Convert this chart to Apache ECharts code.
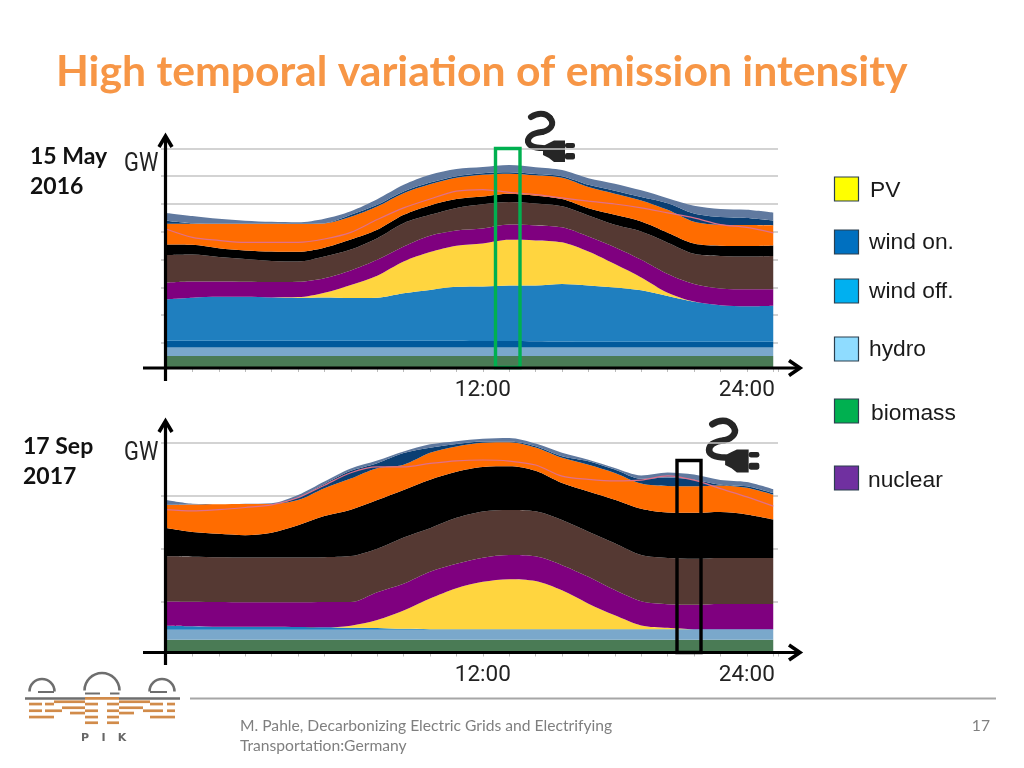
<!DOCTYPE html>
<html><head><meta charset="utf-8">
<style>html,body{margin:0;padding:0;background:#fff}#c{width:1024px;height:768px}</style>
<script src="https://cdn.jsdelivr.net/npm/echarts@6/dist/echarts.min.js"></script>
</head><body><div id="c"></div>
<script>
// Hourly positions and tick labels
const hours = [0,1,2,3,4,5,6,7,8,9,10,11,12,13,14,15,16,17,18,19,20,21,22,23];
const hourLabels = {12:'12:00', 22:'24:00'};
const layerNames = ['biomass','hydro','wind band','wind off.','PV','nuclear','lignite','hard coal','gas','wind on.','other'];
const layerColors = ['#4a7b55','#7aa8cb','#005a9c','#1f7fbf','#ffd53f','#7f007f','#553933','#000000','#ff6c00','#0b3f73','#60799f'];

// 15 May 2016 (GW)
const may_biomass = [5.3,5.3,5.3,5.3,5.3,5.3,5.3,5.3,5.3,5.3,5.3,5.3,5.3,5.3,5.3,5.3,5.3,5.3,5.3,5.3,5.3,5.3,5.3,5.3];
const may_hydro   = [3.1,3.1,3.1,3.1,3.1,3.1,3.1,3.1,3.1,3.1,3.1,3.1,3.1,3.1,3.1,3.1,3.1,3.1,3.1,3.1,3.1,3.1,3.1,3.1];
const may_band    = [2.4,2.4,2.4,2.4,2.4,2.4,2.4,2.4,2.4,2.4,2.4,2.4,2.3,2.3,2.2,2.1,2.0,2.0,2.0,2.0,2.0,2.0,2.0,2.0];
const may_off     = [14.9,15.5,15.8,15.8,15.6,15.5,15.6,15.4,15.5,17.1,18.3,19.4,19.6,20.0,20.1,20.7,20.3,19.6,18.6,16.5,14.4,13.2,12.8,13.0];
const may_pv      = [0,0,0,0,0,0.2,1.7,4.7,7.9,11.4,13.6,14.8,15.5,16.4,16.2,15.0,12.2,8.4,4.6,1.2,0.1,0,0,0];
const may_nuclear = [6.0,5.8,5.5,5.4,5.5,5.5,5.2,5.2,5.7,5.4,5.9,5.5,5.4,5.5,5.4,5.4,5.4,6.0,6.3,6.7,6.3,6.0,6.1,5.9];
const may_lignite = [9.9,9.7,8.8,8.2,7.6,7.3,7.8,7.5,7.8,8.4,7.5,8.1,8.7,8.1,7.9,7.6,7.6,8.1,10.2,11.3,10.9,11.7,11.8,12.0];
const may_coal    = [3.8,3.5,3.2,3.1,3.4,3.5,3.2,3.6,3.0,3.0,3.4,3.2,2.8,3.0,2.8,2.6,2.6,3.6,3.6,3.6,3.7,3.7,3.8,3.8];
const may_gas     = [7.5,7.6,8.8,9.6,10.0,10.0,8.7,8.2,8.4,7.8,7.6,7.6,7.8,7.2,7.3,7.6,7.6,7.6,7.6,8.2,7.8,7.5,7.5,7.2];
const may_on      = [1.1,0.2,0,0,0,0.2,0.1,0.7,0.6,0.6,0.6,0.6,0.6,0.5,0.5,0.6,0.8,1.1,1.2,2.4,3.0,2.8,2.6,1.8];
const may_other   = [2.8,2.6,1.8,1.1,0.7,0.4,1.6,1.3,2.0,2.4,2.8,2.6,2.2,2.6,2.4,2.2,2.4,2.5,2.4,1.8,2.8,2.9,2.9,2.8];
const may_load    = [51.0,48.0,46.9,46.2,46.2,46.2,47.4,49.8,54.4,58.6,61.8,64.6,65.2,64.2,63.4,62.2,61.0,60.0,58.6,56.8,55.0,52.6,51.6,49.6];

// 17 Sep 2017 (GW)
const sep_biomass = [5.8,5.8,5.8,5.8,5.8,5.8,5.8,5.8,5.8,5.8,5.8,5.8,5.8,5.8,5.8,5.8,5.8,5.8,5.8,5.8,5.8,5.8,5.8,5.8];
const sep_hydro   = [3.8,3.8,3.8,3.8,3.8,3.8,3.8,3.8,3.8,3.8,3.8,3.8,3.8,3.8,3.8,3.8,3.8,3.8,3.8,3.8,3.8,3.8,3.8,3.8];
const sep_band    = [0,0,0,0,0,0,0,0,0,0,0,0,0,0,0,0,0,0,0,0,0,0,0,0];
const sep_off     = [1.5,1.3,1.1,1.1,1.1,1.0,0.9,0.7,0.6,0.3,0.2,0.2,0.2,0.2,0.2,0.2,0.2,0.2,0.2,0.2,0.2,0.2,0.2,0.2];
const sep_pv      = [0,0,0,0,0,0,0,0.8,3.0,6.9,11.5,15.4,17.8,18.8,18.1,14.6,9.6,5.2,1.4,0.5,0,0,0,0];
const sep_nuclear = [9.1,9.2,9.3,9.2,9.2,9.3,9.5,8.9,10.5,10.1,10.1,9.2,9.1,9.1,9.3,9.5,10.1,9.5,9.1,8.9,9.2,9.5,9.5,9.5];
const sep_lignite = [17.0,17.0,16.9,16.9,16.9,16.9,16.9,17.3,16.4,17.4,16.4,17.3,17.4,17.0,17.0,17.0,17.0,17.6,17.4,17.4,17.3,17.3,17.3,17.3];
const sep_coal    = [10.7,9.3,8.8,8.4,9.3,12.1,15.5,17.5,18.3,17.9,18.3,17.4,16.8,16.4,15.2,13.9,15.1,16.4,17.4,17.1,17.3,17.3,16.4,14.5];
const sep_gas     = [8.6,10.3,11.1,11.7,10.8,9.5,10.5,11.7,12.0,9.5,10.1,9.5,9.1,9.1,8.8,9.5,10.1,10.1,9.5,10.0,10.0,10.0,10.0,9.3];
const sep_on      = [0.1,0,0,0,0,1.0,1.6,2.9,1.9,4.4,1.9,0.9,0.5,0.3,0.5,0.6,1.3,1.3,1.8,3.2,2.5,0.3,0.6,0.6];
const sep_other   = [1.8,0.3,0,0.1,0.3,0.9,0.9,0.9,1.0,0.6,1.3,1.1,1.0,1.3,1.0,1.3,0.6,0.6,1.3,1.9,1.9,1.8,1.6,1.5];
const sep_load    = [54.8,54.3,54.8,55.6,56.6,59.3,64.0,68.7,70.9,70.9,72.2,73.2,73.5,73.1,71.6,67.4,66.2,65.6,65.9,67.5,65.9,62.7,59.6,56.1];

const mayLayers = [may_biomass,may_hydro,may_band,may_off,may_pv,may_nuclear,may_lignite,may_coal,may_gas,may_on,may_other];
const sepLayers = [sep_biomass,sep_hydro,sep_band,sep_off,sep_pv,sep_nuclear,sep_lignite,sep_coal,sep_gas,sep_on,sep_other];
const mayGrid = [10,20,30,40,50,60,70,80];
const sepGrid = [20,40,60,80];

const legendNames  = ['PV','wind on.','wind off.','hydro','biomass','nuclear'];
const legendColors = ['#ffff00','#0070c0','#00b0f0','#8fdcff','#00b050','#7030a0'];
const legendBoxY   = [177,230,279,337,399,466];
const legendTextX  = [870,869,869,869,871,868];
const legendTextY  = [191,243,292,350,414,481];

const NARROW = 'Roboto,sans-serif';
// value first so that the stack runs along the y dimension
const pair = a => a.map((v,i)=>[v,hours[i]]);

function panelSeries(layers, load, idx){
  const s = layers.map((arr,i)=>({
    type:'line', name:layerNames[i], stack:'p'+idx, xAxisIndex:idx, yAxisIndex:idx,
    data:pair(arr), encode:{x:1,y:0}, symbol:'none', smooth:0.3, clip:true,
    lineStyle:{width:0}, areaStyle:{color:layerColors[i],opacity:1}, z:2+i/100, silent:true
  }));
  s.push({type:'line',name:'load',xAxisIndex:idx,yAxisIndex:idx,data:pair(load),encode:{x:1,y:0},symbol:'none',smooth:0.3,
    lineStyle:{width:1.2,color:'#e0708a'},z:3,silent:true});
  return s;
}
function xAx(idx){
  return {type:'value',gridIndex:idx,min:0,max:23.18,interval:1,
    axisLine:{show:false},splitLine:{show:false},
    axisTick:{show:true,length:4,lineStyle:{color:'#bdbdbd',width:1}},
    axisLabel:{show:true,margin:11,color:'#222',fontFamily:NARROW,fontSize:22.5,
      formatter:v=>hourLabels[v]||''}};
}
function yAx(idx,vals,min,max){
  return {type:'value',gridIndex:idx,min:min,max:max,
    axisLine:{show:false},axisLabel:{show:false},
    axisTick:{show:true,length:5,customValues:vals,lineStyle:{color:'#c4c4c4',width:1.5}},
    splitLine:{show:true,lineStyle:{color:'#c4c4c4',width:1.5}}};
}

// --- decorations ---
const g = [];
const txt=(x,y,t,font,fill,align,sx)=>g.push({type:'text',x,y,z:30,scaleX:sx||1,style:{text:t,font,fill,align:align||'left',verticalAlign:'middle'}});
const line=(x1,y1,x2,y2,stroke,w)=>g.push({type:'line',z:25,shape:{x1,y1,x2,y2},style:{stroke,lineWidth:w}});
const poly=(pts,stroke,w)=>g.push({type:'polyline',z:25,shape:{points:pts},style:{stroke,lineWidth:w,fill:null}});

function arrows(yBase,yBottom,yTop){
  line(143,yBase,800,yBase,'#000',3.2);
  poly([[789,yBase-7.5],[800,yBase],[789,yBase+7.5]],'#000',3.6);
  line(165.5,yBottom,165.5,yTop+2,'#000',3.2);
  poly([[159,yTop+11],[165.5,yTop],[172,yTop+11]],'#000',3.6);
}
arrows(368,381,136);
arrows(652.5,665,421);

function plug(ox,oy,k){
  const cord=(x1,y1,cpx1,cpy1,cpx2,cpy2,x2,y2)=>({type:'bezierCurve',shape:{x1,y1,cpx1,cpy1,cpx2,cpy2,x2,y2},style:{fill:null,stroke:'#262626',lineWidth:6,lineCap:'round'}});
  g.push({type:'group',x:ox,y:oy,scaleX:k,scaleY:k,z:26,children:[
    {type:'rect',shape:{x:-1,y:-2,width:51,height:52},style:{fill:'#fff'}},
    cord(4,4,10,0,18,-1,23,5),
    cord(23,5,28,11,24,17,15,19),
    cord(15,19,5,20,1,24,1,28),
    cord(1,28,1,32,6,35,16,35),
    {type:'polygon',shape:{points:[[16,33],[22,30],[27,27.5],[38,27.5],[38,49],[27,49],[22,45],[16,42]]},style:{fill:'#262626'}},
    {type:'rect',shape:{x:38,y:30,width:10,height:5,r:2},style:{fill:'#262626'}},
    {type:'rect',shape:{x:38,y:40,width:10,height:6.5,r:2},style:{fill:'#262626'}}
  ]});
}
plug(527,113,1);
plug(708,420,1.07);

// highlight boxes
g.push({type:'rect',z:24,shape:{x:495.5,y:148.5,width:24.5,height:219},style:{fill:null,stroke:'#00b050',lineWidth:3.4}});
g.push({type:'rect',z:24,shape:{x:677,y:460.5,width:24,height:192},style:{fill:null,stroke:'#000',lineWidth:3.4}});

// texts
txt(56,72,'High temporal variation of emission intensity','bold 42.7px Lato, "Open Sans", sans-serif','#f79646');
txt(30,157,'15 May','bold 23px Lato, sans-serif','#111');
txt(30,187,'2016','bold 23px Lato, sans-serif','#111');
txt(23,447,'17 Sep','bold 23px Lato, sans-serif','#111');
txt(23,477,'2017','bold 23px Lato, sans-serif','#111');
txt(124,164,'GW','26px '+NARROW,'#222','left',0.84);
txt(124,453,'GW','26px '+NARROW,'#222','left',0.84);

// legend
legendNames.forEach((n,i)=>{
  g.push({type:'rect',z:20,shape:{x:834.5,y:legendBoxY[i],width:24,height:24},style:{fill:legendColors[i],stroke:'#2b3f4f',lineWidth:1.2}});
  txt(legendTextX[i],legendTextY[i],n,'22.8px "Liberation Sans", Arial, sans-serif','#1a1a1a');
});

// footer
line(190,698.5,996,698.5,'#a6a6a6',2.2);
txt(240,725.5,'M. Pahle, Decarbonizing Electric Grids and Electrifying','15.65px Lato, sans-serif','#7f7f7f');
txt(240,746,'Transportation:Germany','15.65px Lato, sans-serif','#7f7f7f');
txt(990,725.5,'17','15.65px Lato, sans-serif','#7f7f7f','right');

// PIK logo
[[42,691.5,12.5],[102,690.5,17.5],[162,691.5,12.5]].forEach(d=>{
  g.push({type:'arc',z:20,shape:{cx:d[0],cy:d[1],r:d[2],startAngle:Math.PI,endAngle:0,clockwise:true},style:{stroke:'#6e6e6e',fill:null,lineWidth:2.6}});
});
[[38,54,692],[85,100,693.5],[110,119.5,693.5],[150,167,692]].forEach(h=>line(h[0],h[2],h[1],h[2],'#6e6e6e',2));
line(25,698.5,85,698.5,'#6e6e6e',2.4);
line(119,698.5,180,698.5,'#6e6e6e',2.4);
[[29,42,704],[45,54,704],[29,42,710.7],[45,62,710.7],[29,54,717],
 [54,85,701.7],[62,85,707.7],[70,85,713],
 [85,119,698.3],[85,98,704],[107,119,704],[85,98,710.7],[107,119,710.7],[85,98,717],[107,119,717],[85,98,722.7],[107,119,722.7],
 [119,150,701.7],[119,143,707.7],[119,134,713],
 [150,163,704],[167,175,704],[143,163,710.7],[167,175,710.7],[150,175,717]
].forEach(b=>g.push({type:'rect',z:20,shape:{x:b[0],y:b[2]-1.3,width:b[1]-b[0],height:2.7},style:{fill:'#d18b4a'}}));
txt(85,738,'P','bold 11px "DejaVu Sans", sans-serif','#666','center');
txt(103.5,738,'I','bold 11px "DejaVu Sans", sans-serif','#666','center');
txt(122,738,'K','bold 11px "DejaVu Sans", sans-serif','#666','center');

const chart = echarts.init(document.getElementById('c'),null,{renderer:'canvas'});
chart.setOption({
  animation:false, backgroundColor:'#fff',
  grid:[{left:166,right:246,top:148.4,height:219.6},{left:166,right:246,top:432.1,height:220.4}],
  xAxis:[xAx(0),xAx(1)],
  yAxis:[yAx(0,mayGrid,1,80),yAx(1,sepGrid,1,84)],
  series:[...panelSeries(mayLayers,may_load,0),...panelSeries(sepLayers,sep_load,1)],
  graphic:{elements:g}
});
</script></body></html>
